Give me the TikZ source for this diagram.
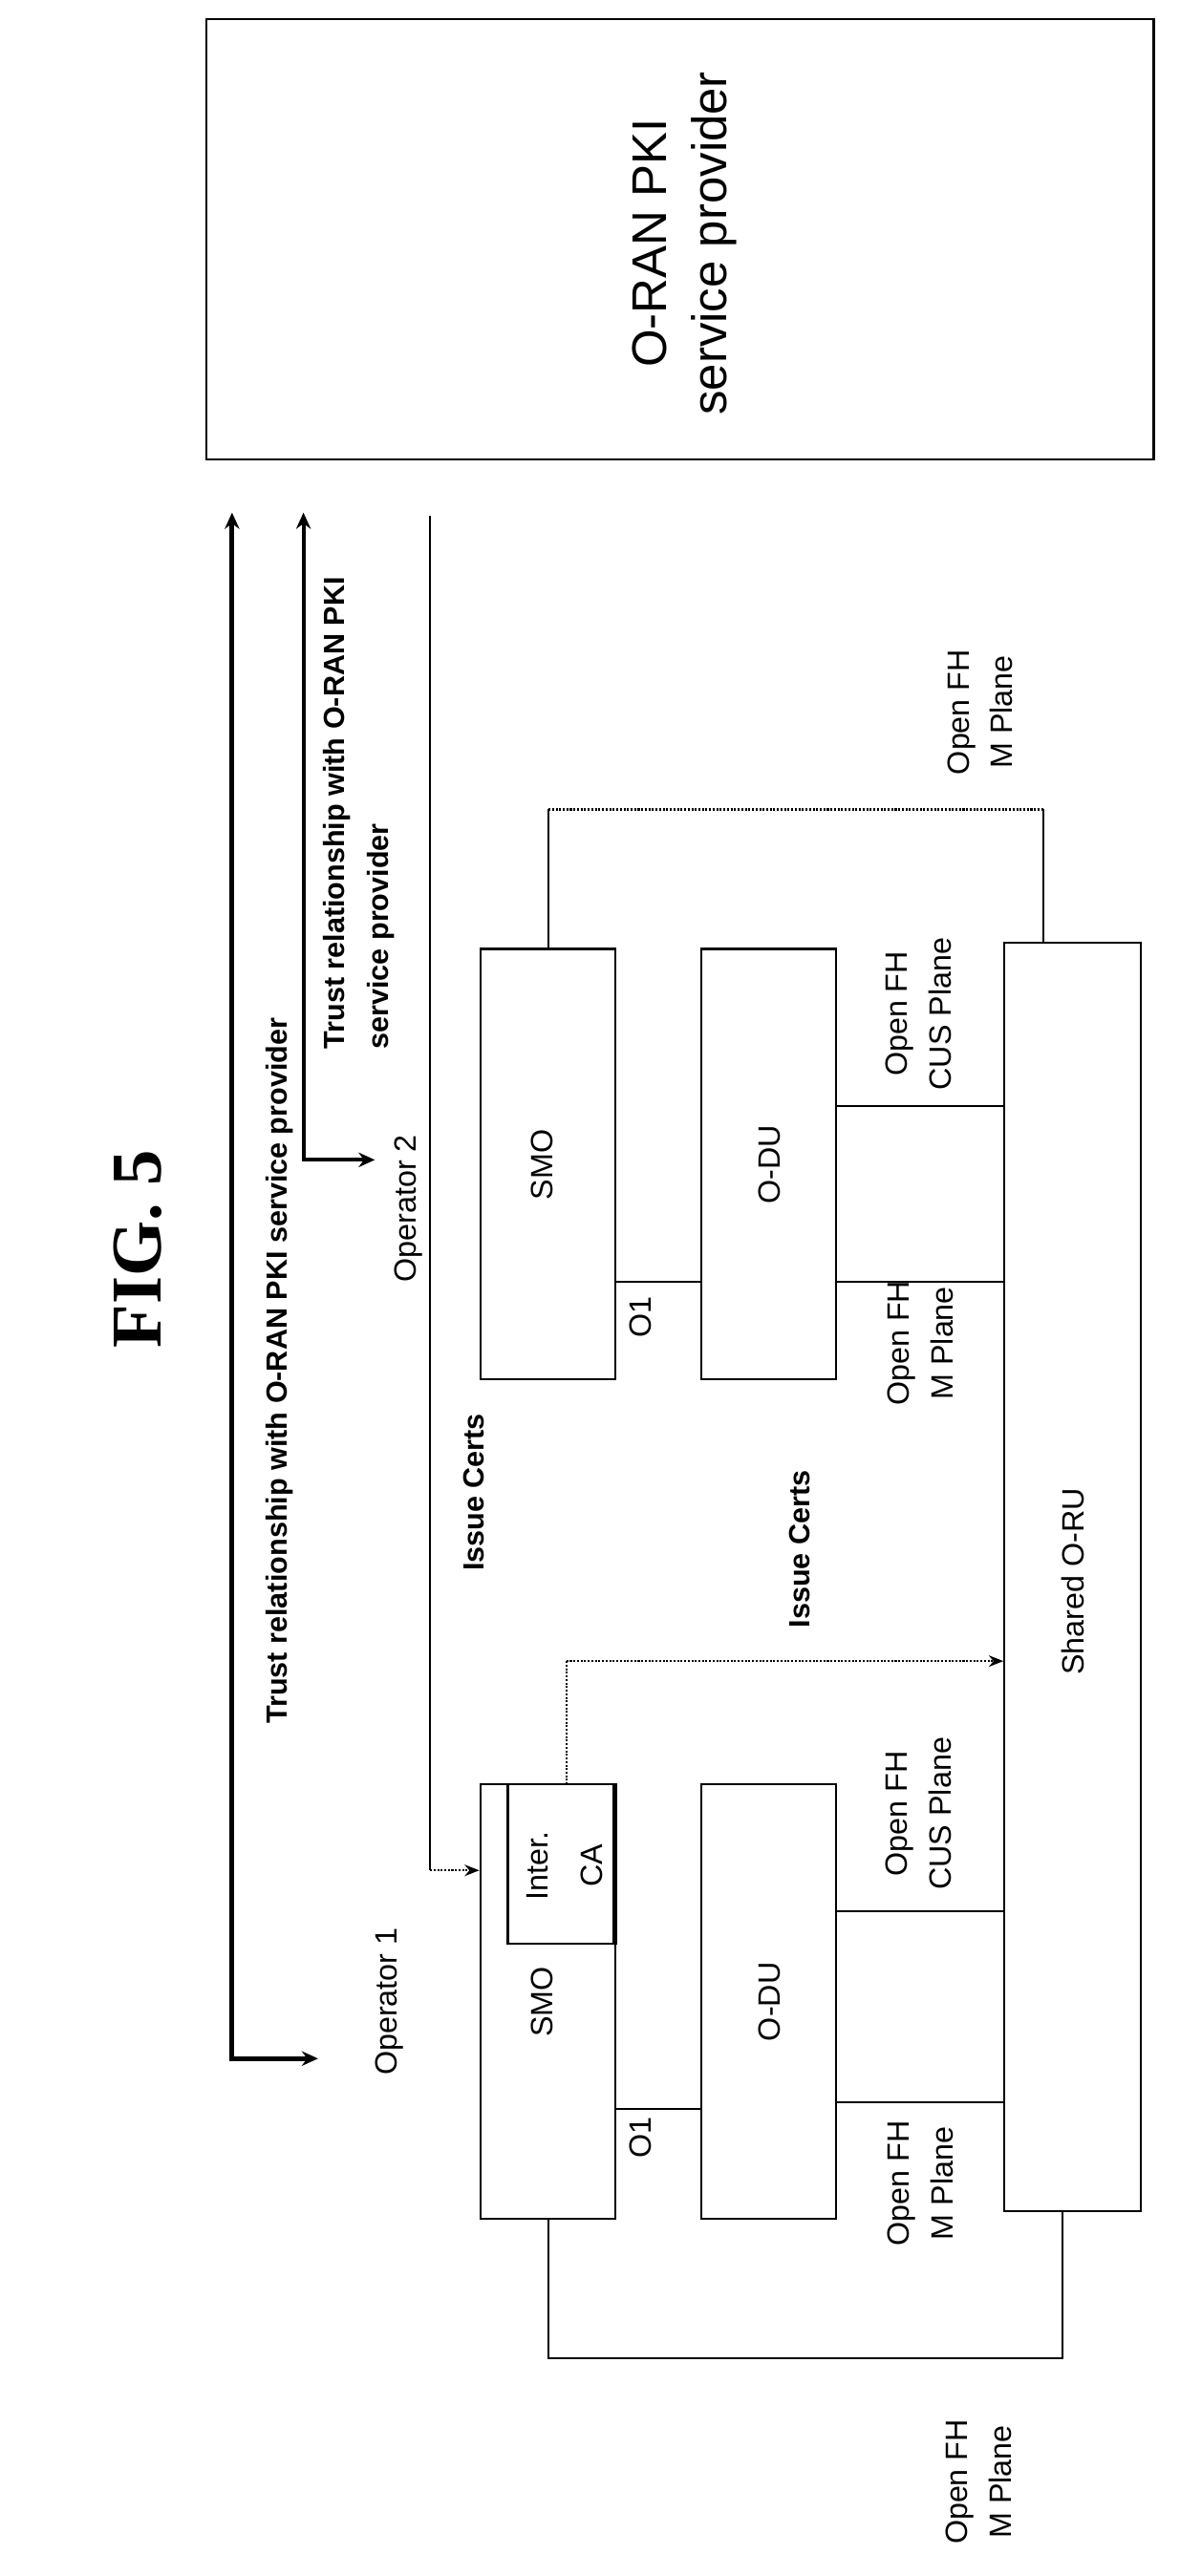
\documentclass[tikz,border=0pt]{standalone}
\usepackage{fontspec}
\setmainfont{Liberation Sans}
\newfontfamily\figfont{Liberation Serif}
\usetikzlibrary{arrows.meta}
\begin{document}
\begin{tikzpicture}[x=1pt,y=-1pt,
  box/.style={draw,line width=1.3pt,minimum width=83pt,inner sep=0pt},
  lbl/.style={rotate=90,font=\fontsize{19}{27}\selectfont,align=center,inner sep=0pt},
  conn/.style={line width=1.2pt},
  dot/.style={line width=1.2pt,densely dotted},
  tip/.style={-{Stealth[length=9pt,width=7pt]}}]
\useasboundingbox (0,0) rectangle (727,1588);
% title
\node[rotate=90,font=\figfont\bfseries\fontsize{44}{50}\selectfont] (fig) at (85,770) {FIG. 5};
% PKI box
\node[draw,line width=1.3pt,minimum width=584pt,minimum height=271pt,inner sep=0pt] (pki) at (419,147.5) {};
\node[rotate=90,font=\fontsize{30}{37}\selectfont,align=center] (pkit) at (422,150) {O-RAN PKI\\service provider};
% boxes
\node[box,minimum height=268pt] (smo1) at (337.5,1234) {};
\node[box,minimum height=268pt] (odu1) at (473.5,1234) {};
\node[box,minimum height=265pt] (smo2) at (337.5,717.5) {};
\node[box,minimum height=265pt] (odu2) at (473.5,717.5) {};
\node[draw,line width=1.3pt,minimum width=84pt,minimum height=782pt,inner sep=0pt] (oru) at (661,972) {};
\node[draw,line width=1.3pt,minimum width=65pt,minimum height=98pt,inner sep=0pt] (ca) at (345.5,1149) {};
\draw[line width=3pt] (ca.north east) -- (ca.south east);
% texts
\node[lbl] (t1) at (334,1234) {SMO};
\node[lbl] (t2) at (474,1234) {O-DU};
\node[lbl] (t3) at (334,718) {SMO};
\node[lbl] (t4) at (474,718) {O-DU};
\node[lbl,font=\fontsize{19}{34}\selectfont] (tca) at (348,1150) {Inter.\\CA};
\node[lbl] (toru) at (661,975) {Shared O-RU};
\node[lbl] (o1a) at (395,1318) {O1};
\node[lbl] (o1b) at (395,812) {O1};
\node[lbl] (c1) at (566,1118) {Open FH\\CUS Plane};
\node[lbl] (m1) at (567,1346) {Open FH\\M Plane};
\node[lbl] (c2) at (566,625) {Open FH\\CUS Plane};
\node[lbl] (m2) at (567,828) {Open FH\\M Plane};
\node[lbl] (mt) at (604,439) {Open FH\\M Plane};
\node[lbl] (mb) at (603,1530) {Open FH\\M Plane};
\node[lbl] (op1) at (240,1234) {Operator 1};
\node[lbl] (op2) at (252,745) {Operator 2};
\node[lbl,font=\bfseries\fontsize{18}{26}\selectfont] (ic1) at (292,920) {Issue Certs};
\node[lbl,font=\bfseries\fontsize{18}{26}\selectfont] (ic2) at (493,955) {Issue Certs};
\node[lbl,font=\bfseries\fontsize{18}{26}\selectfont] (tr1) at (172,845) {Trust relationship with O-RAN PKI service provider};
\node[lbl,font=\bfseries\fontsize{18}{27}\selectfont,align=left,anchor=west] (tr2) at (221,647) {Trust relationship with O-RAN PKI\\service provider};
% coordinates
\coordinate (a1t) at (143,316);
\coordinate (a1e) at (196,1269);
\coordinate (a2t) at (187,316);
\coordinate (a2e) at (231,715);
\coordinate (l3t) at (265,318);
% connectors
\draw[line width=3pt,{Stealth[length=10pt,width=9pt]}-{Stealth[length=10pt,width=9pt]}] (a1t) |- (a1e);
\draw[line width=2.4pt,{Stealth[length=10pt,width=9pt]}-{Stealth[length=10pt,width=9pt]}] (a2t) |- (a2e);
\draw[conn] (l3t) -- (265,1153);
\draw[dot,tip] (265,1153) -- (smo1.west |- 0,1153);
\draw[dot] (349,1100) -- (349,1024);
\draw[dot,tip] (349,1024) -- (oru.west |- 0,1024);
\draw[conn] (smo1.east |- 0,1300) -- (odu1.west |- 0,1300);
\draw[conn] (smo2.east |- 0,790) -- (odu2.west |- 0,790);
\draw[conn] (odu1.east |- 0,1178) -- (oru.west |- 0,1178);
\draw[conn] (odu1.east |- 0,1296) -- (oru.west |- 0,1296);
\draw[conn] (odu2.east |- 0,682) -- (oru.west |- 0,682);
\draw[conn] (odu2.east |- 0,790) -- (oru.west |- 0,790);
\draw[conn] (smo1.south -| 338,0) -- (338,1454) -- (655,1454) -- (oru.south -| 655,0);
\draw[conn] (smo2.north -| 338,0) -- (338,499);
\draw[dot] (338,499) -- (643,499);
\draw[conn] (643,499) -- (oru.north -| 643,0);
\end{tikzpicture}
\end{document}
